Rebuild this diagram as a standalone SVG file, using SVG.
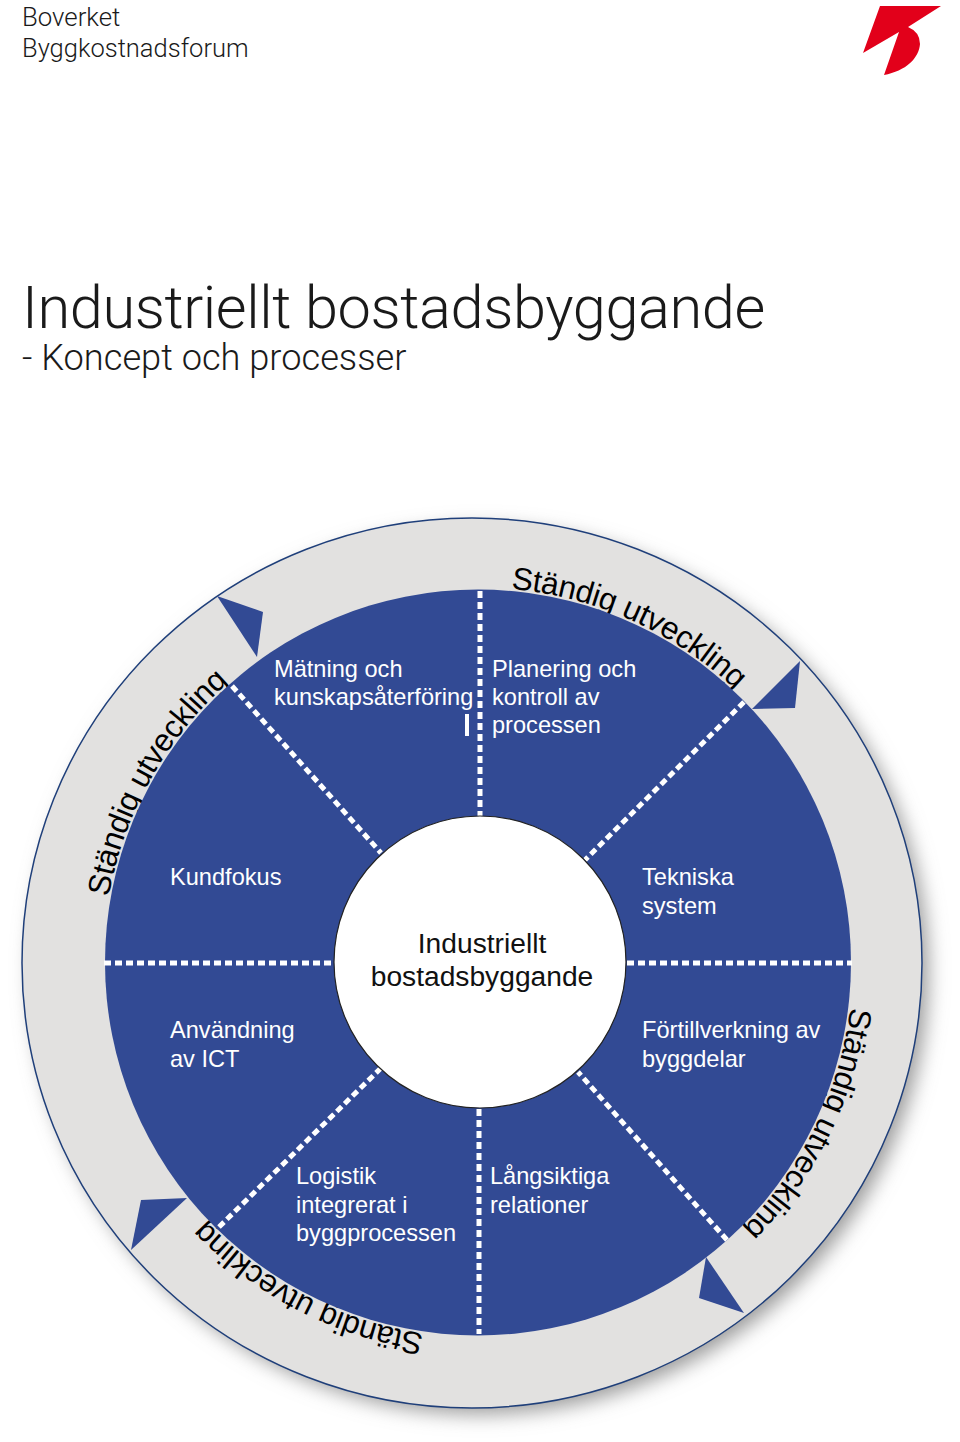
<svg xmlns="http://www.w3.org/2000/svg" width="960" height="1442" viewBox="0 0 960 1442">
<style>
text{font-family:"Liberation Sans",Arial,sans-serif}
.h{font-family:Roboto,"Liberation Sans",sans-serif;font-weight:300;fill:#1a1a1a}
.l{font-size:23.6px;fill:#fff}
.c{font-size:28.2px;fill:#111;text-anchor:middle}
.r{font-size:31.5px;letter-spacing:-.3px;fill:#000}
.d{stroke:#fff;stroke-width:5;stroke-dasharray:7 4;fill:none}
.a{fill:#324a94}
</style>
<defs>
<filter id="sh" x="-10%" y="-10%" width="120%" height="120%"><feGaussianBlur stdDeviation="10"/></filter>
<path id="ring" d="M478 587.5A375 375 0 1 1 477.9 587.5"/>
</defs>
<rect width="960" height="1442" fill="#fff"/>
<g id="header">
<text class="h" x="22" y="26" font-size="25.8">Boverket</text>
<text class="h" x="22" y="57" font-size="25.5">Byggkostnadsforum</text>
<text class="h" x="22" y="328" font-size="59.5" letter-spacing="-.4">Industriellt bostadsbyggande</text>
<text class="h" x="22" y="370" font-size="36.2">- Koncept och processer</text>
</g>
<g id="logo"><path d="M880 6H941L908 27Q920 32 920 44C919 58 906 71 884 75L899 32L863 53Z" fill="#e2001a"/></g>
<g id="ring-bg">
<ellipse cx="480" cy="971" rx="448" ry="443" fill="#9a9a9a" filter="url(#sh)"/>
<ellipse cx="472" cy="963" rx="450" ry="445" fill="#e2e1e0" stroke="#1f3f7a" stroke-width="1.5"/>
</g>
<g id="ring-labels">
<text class="r"><textPath href="#ring" startOffset="1.4%">Ständig utveckling</textPath></text>
<text class="r"><textPath href="#ring" startOffset="26.9%">Ständig utveckling</textPath></text>
<text class="r"><textPath href="#ring" startOffset="52.3%">Ständig utveckling</textPath></text>
<text class="r"><textPath href="#ring" startOffset="77.8%">Ständig utveckling</textPath></text>
</g>
<g id="disc"><circle cx="478" cy="962.5" r="373" fill="#324a94"/></g>
<g id="connectors">
<path class="d" d="M480 591V816"/>
<path class="d" d="M479 1109V1334"/>
<path class="d" d="M104 963H334"/>
<path class="d" d="M627 963H852"/>
<path class="d" d="M232 686L381 853"/>
<path class="d" d="M744 702L585 860"/>
<path class="d" d="M219 1227L381 1068"/>
<path class="d" d="M727 1240L578 1072"/>
<path d="M467 714V736" stroke="#fff" stroke-width="4"/>
</g>
<g id="arrows">
<path class="a" d="M217 596L263 612L257 657Z"/>
<path class="a" d="M800 661L795 708L752 709Z"/>
<path class="a" d="M744 1313L699 1298L706 1257Z"/>
<path class="a" d="M131 1250L141 1200L187 1198Z"/>
</g>
<g id="hub">
<circle cx="480" cy="962" r="146" fill="#fff" stroke="#222" stroke-width="1.2"/>
<text class="c" x="482" y="953">Industriellt</text>
<text class="c" x="482" y="986">bostadsbyggande</text>
</g>
<g id="n1"><text class="l" x="274" y="677">Mätning och</text><text class="l" x="274" y="705">kunskapsåterföring</text></g>
<g id="n2"><text class="l" x="492" y="677">Planering och</text><text class="l" x="492" y="705">kontroll av</text><text class="l" x="492" y="733">processen</text></g>
<g id="n3"><text class="l" x="642" y="885">Tekniska</text><text class="l" x="642" y="914">system</text></g>
<g id="n4"><text class="l" x="642" y="1038">Förtillverkning av</text><text class="l" x="642" y="1067">byggdelar</text></g>
<g id="n5"><text class="l" x="490" y="1184">Långsiktiga</text><text class="l" x="490" y="1213">relationer</text></g>
<g id="n6"><text class="l" x="296" y="1184">Logistik</text><text class="l" x="296" y="1213">integrerat i</text><text class="l" x="296" y="1241">byggprocessen</text></g>
<g id="n7"><text class="l" x="170" y="1038">Användning</text><text class="l" x="170" y="1067">av ICT</text></g>
<g id="n8"><text class="l" x="170" y="885">Kundfokus</text></g>
</svg>
